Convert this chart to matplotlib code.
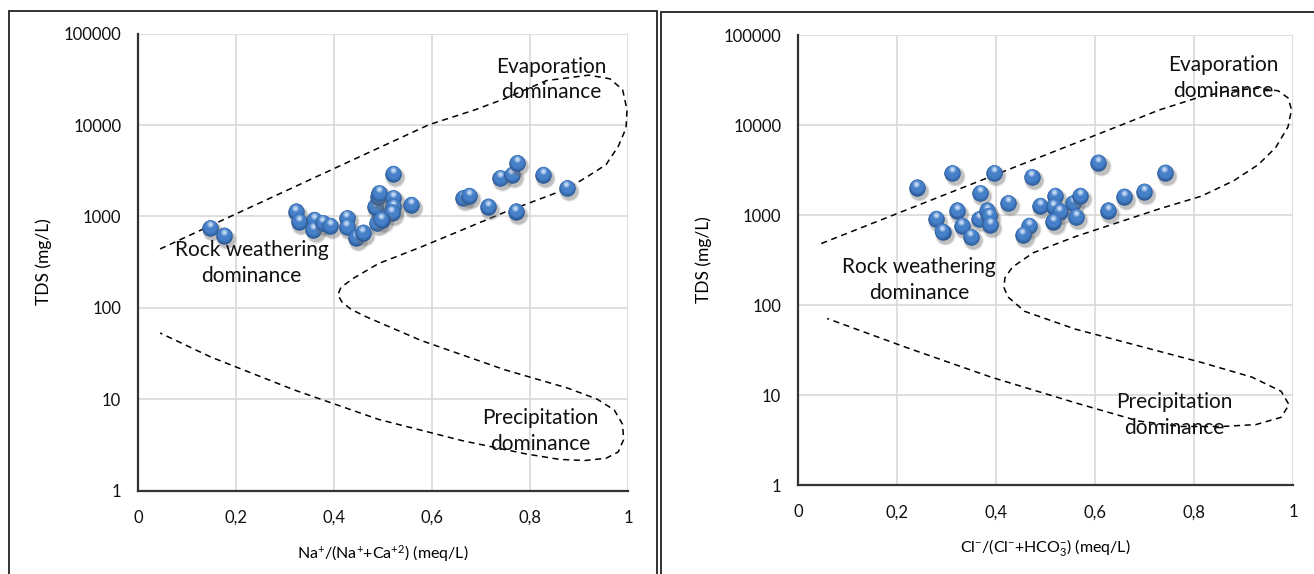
import numpy as np
import matplotlib
matplotlib.use("Agg")
import matplotlib.pyplot as plt
from matplotlib import transforms
from matplotlib.colors import to_rgb
from matplotlib.patches import Rectangle
from matplotlib.ticker import FixedLocator, FixedFormatter

plt.rcParams['font.family'] = ['Lato', 'DejaVu Sans']
plt.rcParams['mathtext.fontset'] = 'custom'
plt.rcParams['mathtext.rm'] = 'Lato'
plt.rcParams['mathtext.it'] = 'Lato:italic'
plt.rcParams['mathtext.default'] = 'regular'

# ---- samples: Na+/(Na+ + Ca2+) vs TDS ----
na_ratio = [0.147, 0.176, 0.322, 0.329, 0.360, 0.358, 0.377, 0.392, 0.426, 0.426,
            0.445, 0.459, 0.487, 0.493, 0.484, 0.490, 0.492, 0.521, 0.521, 0.521,
            0.518, 0.557, 0.664, 0.676, 0.715, 0.739, 0.763, 0.774, 0.827, 0.771,
            0.875, 0.497]
tds_na = [741, 615, 1127, 875, 914, 710, 841, 785, 953, 760,
          585, 663, 841, 1037, 1277, 1643, 1790, 1578, 1277, 2913,
          1100, 1334, 1578, 1673, 1277, 2612, 2840, 3820, 2840, 1127,
          2032, 920]

# ---- samples: Cl-/(Cl- + HCO3-) vs TDS ----
cl_ratio = [0.240, 0.312, 0.396, 0.472, 0.607, 0.741, 0.368, 0.425, 0.322, 0.279,
            0.292, 0.331, 0.349, 0.366, 0.382, 0.386, 0.388, 0.489, 0.467, 0.454,
            0.519, 0.517, 0.529, 0.516, 0.556, 0.570, 0.562, 0.627, 0.659, 0.699]
tds_cl = [2012, 2907, 2907, 2623, 3811, 2950, 1742, 1349, 1117, 903,
          652, 755, 565, 896, 1117, 975, 774, 1259, 755, 600,
          1625, 1237, 1089, 843, 1349, 1625, 943, 1117, 1596, 1815]

# ---- Gibbs boundary envelopes ----
gibbs_na_x = [0.045, 0.594, 0.688, 0.748, 0.834, 0.920, 0.963, 0.989, 0.998, 0.996,
              0.980, 0.955, 0.920, 0.877, 0.748, 0.577, 0.491, 0.440, 0.414, 0.408,
              0.416, 0.435, 0.465, 0.577, 0.748, 0.877, 0.937, 0.972, 0.989, 0.991,
              0.980, 0.955, 0.912, 0.860, 0.791, 0.663, 0.491, 0.319, 0.148, 0.045]
gibbs_na_tds = [440, 10100, 14700, 19400, 30700, 35200, 32100, 24400, 14700, 9250,
                5830, 3680, 2790, 2020, 1110, 461, 305, 211, 167, 139,
                116, 96, 80, 44, 21, 13.2, 10, 7.6, 5.3, 3.6,
                2.64, 2.25, 2.13, 2.19, 2.52, 3.5, 6.0, 12.6, 29, 53]

gibbs_cl_x = [0.047, 0.730, 0.806, 0.870, 0.930, 0.970, 0.990, 0.997, 0.990, 0.965,
              0.930, 0.880, 0.815, 0.730, 0.560, 0.475, 0.433, 0.418, 0.416, 0.424,
              0.458, 0.560, 0.815, 0.917, 0.976, 0.992, 0.976, 0.925, 0.857, 0.773,
              0.688, 0.560, 0.390, 0.221, 0.059]
gibbs_cl_tds = [482, 14700, 20000, 24000, 25700, 24000, 20000, 14800, 9550, 5620,
                3630, 2400, 1620, 1170, 575, 380, 263, 200, 157, 123,
                85, 54, 23, 15.8, 11, 7.8, 5.65, 4.69, 4.47, 4.47,
                5.14, 8.2, 15.8, 33.4, 70.8]

x_ticks = [0, 0.2, 0.4, 0.6, 0.8, 1]
x_tick_labels = ['0', '0,2', '0,4', '0,6', '0,8', '1']
y_ticks = [1, 10, 100, 1000, 10000, 100000]
y_tick_labels = ['1', '10', '100', '1000', '10000', '100000']

W, H = 1314, 574
fig = plt.figure(figsize=(W / 100, H / 100), dpi=100)


def px_box(x0, y_top, x1, y_bot):
    return [x0 / W, 1 - y_bot / H, (x1 - x0) / W, (y_bot - y_top) / H]


# panel frames
fig.add_artist(Rectangle((9 / W, -0.05), (657 - 9) / W, 1.05 - 11 / H,
                         transform=fig.transFigure, fill=False, lw=1.3, ec='#222222'))
fig.add_artist(Rectangle((661 / W, -0.05), 1.0, 1.05 - 12 / H,
                         transform=fig.transFigure, fill=False, lw=1.3, ec='#222222'))


def spheres(ax, xs, ys, z0=5):
    d = 11.8
    edge = np.array(to_rgb('#2a5895'))
    mid = np.array(to_rgb('#4680c8'))
    light = np.array(to_rgb('#cfe2f8'))
    for i, (x, y) in enumerate(zip(xs, ys)):
        z = z0 + i * 0.05
        for j, (a, grow) in enumerate([(0.12, 3.0), (0.18, 1.8), (0.22, 0.8)]):
            sh = transforms.offset_copy(ax.transData, fig=fig, x=1.5, y=-2.2, units='points')
            ax.plot([x], [y], 'o', ms=d + grow, mfc='#6e6e6e', mec='none', alpha=a,
                    transform=sh, zorder=z)
        ax.plot([x], [y], 'o', ms=d, mfc=edge, mec='none', zorder=z + 0.001)
        # body shading, lighter towards the upper part
        n = 5
        for k in range(1, n + 1):
            f = k / n
            c = edge * (1 - f) + mid * f
            size = d * (1.0 - 0.22 * f)
            off = transforms.offset_copy(ax.transData, fig=fig, x=-0.15 * f,
                                         y=0.12 * d * f, units='points')
            ax.plot([x], [y], 'o', ms=size, mfc=c, mec='none', transform=off,
                    zorder=z + 0.002 + 0.001 * k)
        # glossy highlight near the top
        for k, (sz, mix) in enumerate([(0.42, 0.35), (0.28, 0.7), (0.16, 0.95)]):
            c = mid * (1 - mix) + light * mix
            off = transforms.offset_copy(ax.transData, fig=fig, x=-0.3,
                                         y=d * 0.25, units='points')
            ax.plot([x], [y], 'o', ms=d * sz, mfc=c, mec='none', transform=off,
                    zorder=z + 0.01 + 0.001 * k)


def panel(rect, xs, ys, bx, by, xlabel, labels):
    ax = fig.add_axes(rect)
    ax.set_yscale('log')
    ax.set_xlim(0, 1)
    ax.set_ylim(1, 100000)
    ax.xaxis.set_major_locator(FixedLocator(x_ticks))
    ax.xaxis.set_major_formatter(FixedFormatter(x_tick_labels))
    ax.yaxis.set_major_locator(FixedLocator(y_ticks))
    ax.yaxis.set_major_formatter(FixedFormatter(y_tick_labels))
    ax.yaxis.set_minor_locator(FixedLocator([]))
    ax.grid(True, color='#d9d9d9', lw=1.2)
    ax.set_axisbelow(True)
    for s in ('top', 'right'):
        ax.spines[s].set_visible(False)
    for s in ('left', 'bottom'):
        ax.spines[s].set_linewidth(1.6)
        ax.spines[s].set_color('#333333')
    ax.tick_params(length=0, labelsize=12, colors='#111111')
    ax.tick_params(axis='y', pad=12)
    ax.tick_params(axis='x', pad=14)
    ax.set_xlabel(xlabel, fontsize=11.5, labelpad=12)
    ax.set_ylabel('TDS (mg/L)', fontsize=12.5, labelpad=8)
    ax.plot(bx, by, color='black', lw=1.1, ls=(0, (4, 3)), zorder=3)
    for (tx, ty, t) in labels:
        ax.text(tx, ty, t, fontsize=15, ha='center', va='center', color='#111111',
                linespacing=1.35, zorder=10)
    spheres(ax, xs, ys)
    return ax


panel(px_box(138, 33.7, 628, 490.5), na_ratio, tds_na, gibbs_na_x, gibbs_na_tds,
      r'Na$^{+}$/(Na$^{+}$+Ca$^{+2}$) (meq/L)',
      [(0.843, 10 ** 4.50, 'Evaporation\ndominance'),
       (0.232, 10 ** 2.49, 'Rock weathering\ndominance'),
       (0.821, 10 ** 0.65, 'Precipitation\ndominance')])

panel(px_box(798, 35, 1293, 485), cl_ratio, tds_cl, gibbs_cl_x, gibbs_cl_tds,
      r'Cl$^{-}$/(Cl$^{-}$+HCO$_{3}^{-}$) (meq/L)',
      [(0.860, 10 ** 4.52, 'Evaporation\ndominance'),
       (0.244, 10 ** 2.28, 'Rock weathering\ndominance'),
       (0.761, 10 ** 0.78, 'Precipitation\ndominance')])

fig.savefig('out.png', dpi=100)
